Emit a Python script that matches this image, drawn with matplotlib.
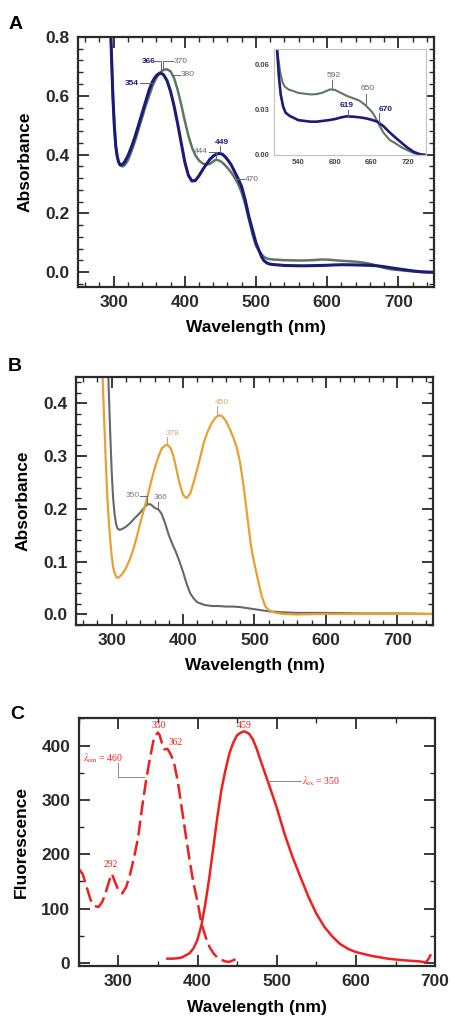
import matplotlib
matplotlib.use("Agg")
import matplotlib.pyplot as plt
from matplotlib.ticker import MultipleLocator

plt.rcParams['font.family'] = ['Liberation Sans', 'DejaVu Sans']
plt.rcParams['mathtext.fontset'] = 'stix'

# ---- panel A : absorbance, two forms ----
blue_nm = [295, 297, 299, 301, 303, 305, 307, 309, 312, 315, 320, 325, 330, 335, 340, 345, 350, 354, 358, 362,
           366, 370, 375, 380, 385, 390, 395, 400, 405, 410, 415, 420, 425, 430, 435, 440, 445, 449, 453, 457,
           461, 465, 470, 475, 480, 485, 490, 495, 500, 505, 508, 511, 515, 519, 525, 530, 540, 550, 560, 570,
           580, 590, 600, 610, 619, 630, 640, 650, 660, 670, 680, 690, 700, 710, 720, 730, 740, 750]
blue_abs = [0.90, 0.74, 0.60, 0.50, 0.43, 0.395, 0.375, 0.365, 0.366, 0.373, 0.395, 0.425, 0.46, 0.50, 0.54, 0.58,
            0.62, 0.645, 0.662, 0.673, 0.677, 0.672, 0.652, 0.615, 0.565, 0.505, 0.44, 0.375, 0.33, 0.31, 0.312,
            0.328, 0.348, 0.366, 0.383, 0.395, 0.402, 0.404, 0.401, 0.392, 0.380, 0.366, 0.342, 0.318, 0.29,
            0.245, 0.19, 0.145, 0.10, 0.07, 0.052, 0.040, 0.032, 0.028, 0.026, 0.025, 0.023, 0.0225, 0.022,
            0.022, 0.0225, 0.023, 0.0237, 0.0248, 0.0255, 0.0253, 0.0249, 0.0243, 0.0233, 0.022, 0.019, 0.015,
            0.0114, 0.008, 0.0047, 0.002, 0.0005, 0.0]

green_nm = [295, 297, 299, 301, 303, 305, 307, 310, 313, 316, 320, 325, 330, 335, 340, 345, 350, 355, 360, 365,
            370, 375, 380, 385, 390, 395, 400, 405, 410, 415, 420, 425, 430, 435, 440, 444, 450, 455, 460, 465,
            470, 475, 480, 485, 490, 495, 500, 505, 510, 514, 518, 525, 530, 540, 550, 560, 570, 580, 592, 600,
            610, 620, 630, 640, 650, 660, 665, 670, 680, 690, 700, 710, 720, 730, 740, 750]
green_abs = [0.90, 0.74, 0.60, 0.50, 0.43, 0.395, 0.375, 0.362, 0.36, 0.365, 0.38, 0.41, 0.445, 0.485, 0.525,
             0.565, 0.60, 0.635, 0.66, 0.678, 0.688, 0.69, 0.683, 0.66, 0.62, 0.57, 0.515, 0.465, 0.425, 0.397,
             0.38, 0.37, 0.366, 0.368, 0.377, 0.383, 0.378, 0.368, 0.355, 0.34, 0.322, 0.30, 0.27, 0.23, 0.18,
             0.13, 0.09, 0.07, 0.055, 0.048, 0.045, 0.043, 0.0425, 0.041, 0.0405, 0.040, 0.0402, 0.0412, 0.0433,
             0.043, 0.041, 0.039, 0.0375, 0.036, 0.033, 0.029, 0.026, 0.022, 0.0147, 0.010, 0.0076, 0.005,
             0.003, 0.0012, 0.0003, 0.0]

# ---- panel B ----
gray_nm = [294, 296, 298, 300, 302, 304, 306, 308, 311, 315, 320, 325, 330, 335, 340, 345, 350, 355, 360, 366,
           370, 375, 380, 385, 390, 395, 400, 405, 410, 415, 420, 430, 440, 450, 460, 470, 480, 490, 500, 510,
           520, 540, 560, 600, 650, 700, 750]
gray_abs = [0.50, 0.42, 0.34, 0.27, 0.22, 0.19, 0.172, 0.163, 0.16, 0.162, 0.166, 0.172, 0.179, 0.186, 0.193,
            0.201, 0.209, 0.208, 0.202, 0.198, 0.19, 0.172, 0.15, 0.133, 0.118, 0.10, 0.08, 0.058, 0.04, 0.03,
            0.023, 0.018, 0.016, 0.016, 0.015, 0.015, 0.014, 0.012, 0.01, 0.008, 0.006, 0.004, 0.003, 0.003,
            0.002, 0.002, 0.001]

orange_nm = [286, 288, 290, 292, 294, 296, 298, 300, 302, 304, 307, 310, 315, 320, 325, 330, 335, 340, 345, 350,
             355, 360, 365, 370, 375, 378, 382, 386, 390, 395, 400, 405, 410, 415, 420, 425, 430, 435, 440, 445,
             450, 455, 460, 465, 470, 475, 480, 485, 490, 495, 500, 505, 510, 515, 520, 530, 540, 560, 600, 650,
             700, 750]
orange_abs = [0.50, 0.42, 0.35, 0.28, 0.22, 0.175, 0.14, 0.11, 0.09, 0.078, 0.07, 0.07, 0.077, 0.088, 0.103,
              0.122, 0.146, 0.173, 0.198, 0.223, 0.25, 0.276, 0.297, 0.314, 0.32, 0.321, 0.316, 0.302, 0.279,
              0.248, 0.226, 0.22, 0.229, 0.251, 0.276, 0.303, 0.33, 0.348, 0.362, 0.372, 0.377, 0.375, 0.366,
              0.352, 0.336, 0.317, 0.286, 0.24, 0.185, 0.13, 0.095, 0.065, 0.035, 0.016, 0.008, 0.003, 0.001,
              0.0, 0.001, 0.001, 0.001, 0.001]

# ---- panel C : fluorescence ----
ex_nm = [250, 255, 260, 265, 270, 275, 280, 285, 290, 292, 295, 300, 305, 310, 315, 320, 325, 330, 335, 340,
         345, 350, 352, 355, 358, 362, 365, 370, 375, 380, 385, 390, 395, 400, 405, 410, 415, 420, 425, 430,
         435, 440, 445, 448]
ex_val = [173, 164, 140, 116, 105, 103, 113, 134, 158, 164, 152, 134, 128, 140, 164, 195, 231, 286, 335, 377,
          414, 424, 420, 405, 393, 394, 387, 371, 335, 286, 237, 189, 146, 113, 73, 49, 30, 18, 10, 6, 3, 2, 5, 7]

em_nm = [362, 370, 380, 390, 395, 400, 405, 410, 415, 420, 425, 430, 435, 440, 445, 450, 455, 459, 465, 470,
         475, 480, 490, 500, 510, 520, 530, 540, 550, 560, 570, 580, 590, 600, 620, 640, 660, 680, 688, 691, 694]
em_val = [8, 8, 10, 18, 27, 43, 70, 110, 158, 213, 268, 317, 353, 384, 405, 419, 424, 426, 422, 411, 393, 371,
          329, 286, 237, 195, 158, 122, 91, 67, 49, 35, 26, 20, 13, 8, 5, 3, 1, 6, 14]

NAVY = '#1c1c78'
GREEN = '#5c7862'
GRAY = '#66666e'
ORANGE = '#e8a030'
RED = '#ee2020'
DARK = '#2a2a2a'


def style(ax):
    ax.tick_params(which='both', direction='in', top=True, right=True, colors=DARK, width=1.3)
    ax.tick_params(which='major', length=8, labelsize=12.5, pad=6)
    ax.tick_params(which='minor', length=3.5, width=1.0)
    for s in ax.spines.values():
        s.set_linewidth(1.6)
        s.set_color(DARK)
    for lbl in ax.get_xticklabels() + ax.get_yticklabels():
        lbl.set_fontweight('bold')


def lead(ax, xs, ys, c):
    ax.plot(xs, ys, color=c, lw=0.7)


fig = plt.figure(figsize=(4.5, 10.23), dpi=100)

# ================= A =================
axA = fig.add_axes([0.1733, 0.7195, 0.791, 0.2444])
axA.plot(green_nm, green_abs, color=GREEN, lw=1.8)
axA.plot(blue_nm, blue_abs, color=NAVY, lw=2.2)
axA.set_xlim(250, 750)
axA.set_ylim(-0.05, 0.8)
axA.xaxis.set_major_locator(MultipleLocator(100))
axA.xaxis.set_minor_locator(MultipleLocator(20))
axA.yaxis.set_major_locator(MultipleLocator(0.2))
axA.yaxis.set_minor_locator(MultipleLocator(0.04))
axA.set_xlabel('Wavelength (nm)', fontsize=12.5, fontweight='bold', labelpad=7)
axA.set_ylabel('Absorbance', fontsize=12.5, fontweight='bold', labelpad=9)
style(axA)

fsA = 6
axA.text(349, 0.717, '366', color=NAVY, fontsize=fsA, fontweight='bold', ha='center', va='center')
lead(axA, [358, 366, 366], [0.717, 0.717, 0.686], GRAY)
axA.text(384, 0.717, '370', color=GRAY, fontsize=fsA, ha='left', va='center')
lead(axA, [383, 370, 370], [0.717, 0.717, 0.694], GRAY)
axA.text(394, 0.672, '380', color=GRAY, fontsize=fsA, ha='left', va='center')
lead(axA, [382, 393], [0.672, 0.672], GRAY)
axA.text(326, 0.642, '354', color=NAVY, fontsize=fsA, fontweight='bold', ha='center', va='center')
lead(axA, [337, 354], [0.642, 0.642], GRAY)
axA.text(423, 0.41, '444', color=GRAY, fontsize=fsA, ha='center', va='center')
lead(axA, [434, 444, 444], [0.41, 0.41, 0.388], GRAY)
axA.text(452, 0.442, '449', color=NAVY, fontsize=fsA, fontweight='bold', ha='center', va='center')
lead(axA, [449, 449], [0.43, 0.408], GRAY)
axA.text(484, 0.317, '470', color=GRAY, fontsize=fsA, ha='left', va='center')
lead(axA, [474, 483], [0.317, 0.317], GRAY)

fig.text(0.018, 0.976, 'A', fontsize=14, fontweight='bold', va='center')

# inset
axI = fig.add_axes([0.6089, 0.8485, 0.3378, 0.1036])
axI.set_zorder(5)
axI.plot(green_nm, green_abs, color=GREEN, lw=1.5)
axI.plot(blue_nm, blue_abs, color=NAVY, lw=1.9)
axI.set_xlim(500, 750)
axI.set_ylim(0, 0.07)
axI.set_xticks([540, 600, 660, 720])
axI.set_yticks([0.00, 0.03, 0.06])
axI.set_yticklabels(['0.00', '0.03', '0.06'])
axI.tick_params(length=0, labelsize=5.5, colors='#444444', pad=3)
for lbl in axI.get_xticklabels() + axI.get_yticklabels():
    lbl.set_fontweight('bold')
for s in axI.spines.values():
    s.set_color('#c4c4c4')
    s.set_linewidth(0.9)
fsI = 6
axI.text(598, 0.0527, '592', color=GRAY, fontsize=fsI, ha='center', va='center')
lead(axI, [595, 595], [0.0493, 0.0442], GRAY)
axI.text(654, 0.0437, '650', color=GRAY, fontsize=fsI, ha='center', va='center')
lead(axI, [652, 652], [0.0404, 0.0337], GRAY)
axI.text(620, 0.0326, '619', color=NAVY, fontsize=fsI, fontweight='bold', ha='center', va='center')
lead(axI, [621, 621], [0.0297, 0.0259], GRAY)
axI.text(683, 0.0303, '670', color=NAVY, fontsize=fsI, fontweight='bold', ha='center', va='center')
lead(axI, [673, 673], [0.028, 0.0214], GRAY)

# ================= B =================
axB = fig.add_axes([0.1689, 0.389, 0.7933, 0.2428])
axB.plot(gray_nm, gray_abs, color=GRAY, lw=1.5)
axB.plot(orange_nm, orange_abs, color=ORANGE, lw=1.6)
axB.set_xlim(250, 750)
axB.set_ylim(-0.02, 0.45)
axB.xaxis.set_major_locator(MultipleLocator(100))
axB.xaxis.set_minor_locator(MultipleLocator(20))
axB.yaxis.set_major_locator(MultipleLocator(0.1))
axB.yaxis.set_minor_locator(MultipleLocator(0.02))
axB.set_xlabel('Wavelength (nm)', fontsize=12.5, fontweight='bold', labelpad=7)
axB.set_ylabel('Absorbance', fontsize=12.5, fontweight='bold', labelpad=9)
style(axB)

fsB = 6
axB.text(385, 0.343, '378', color='#d8a868', fontsize=fsB, ha='center', va='center')
lead(axB, [378, 378], [0.336, 0.324], '#c8a070')
axB.text(454, 0.402, '450', color='#d8a868', fontsize=fsB, ha='center', va='center')
lead(axB, [448, 448], [0.394, 0.38], '#c8a070')
axB.text(330, 0.225, '350', color='#7a7a90', fontsize=fsB, ha='center', va='center')
lead(axB, [340, 350, 350], [0.225, 0.225, 0.211], GRAY)
axB.text(368, 0.221, '366', color='#7a7a90', fontsize=fsB, ha='center', va='center')
lead(axB, [365.5, 365.5], [0.213, 0.201], GRAY)

fig.text(0.018, 0.642, 'B', fontsize=14, fontweight='bold', va='center')

# ================= C =================
axC = fig.add_axes([0.1749, 0.056, 0.792, 0.2418])
axC.plot(ex_nm, ex_val, color=RED, lw=1.8, dashes=(6, 2.2))
axC.plot(em_nm, em_val, color=RED, lw=1.8)
axC.set_xlim(250, 700)
axC.set_ylim(-5, 450)
axC.xaxis.set_major_locator(MultipleLocator(100))
axC.xaxis.set_minor_locator(MultipleLocator(50))
axC.yaxis.set_major_locator(MultipleLocator(100))
axC.yaxis.set_minor_locator(MultipleLocator(50))
axC.set_xlabel('Wavelength (nm)', fontsize=12.5, fontweight='bold', labelpad=8)
axC.set_ylabel('Fluorescence', fontsize=12.5, fontweight='bold', labelpad=9)
style(axC)

serif = ['Liberation Serif', 'DejaVu Serif']
fsC = 7
axC.text(351, 437, '350', color=RED, fontsize=fsC, family=serif, ha='center', va='center')
axC.text(373, 406, '362', color=RED, fontsize=fsC, family=serif, ha='center', va='center')
axC.text(459, 437, '459', color=RED, fontsize=fsC, family=serif, ha='center', va='center')
axC.text(290, 181, '292', color=RED, fontsize=fsC, family=serif, ha='center', va='center')
axC.text(281, 377, r'$\lambda_{\mathrm{em}}$ = 460', color=RED, fontsize=fsC, family=serif, ha='center', va='center')
lead(axC, [300, 300, 333], [368, 342, 342], '#888888')
axC.text(556, 335, r'$\lambda_{\mathrm{ex}}$ = 350', color=RED, fontsize=fsC, family=serif, ha='center', va='center')
lead(axC, [489, 531], [334, 334], '#888888')

fig.text(0.022, 0.3015, 'C', fontsize=14, fontweight='bold', va='center')

fig.savefig('out.png', dpi=100)
